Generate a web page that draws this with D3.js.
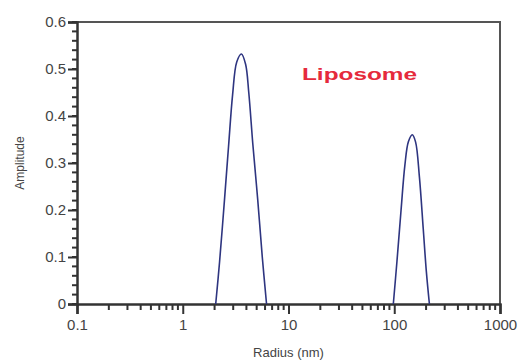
<!DOCTYPE html>
<html>
<head>
<meta charset="utf-8">
<script src="https://cdn.jsdelivr.net/npm/d3@7"></script>
<style>
  body { margin: 0; background: #fff; }
  svg { display: block; font-family: "Liberation Sans", Arial, sans-serif; }
</style>
</head>
<body>
<div id="chart"></div>
<script>
// Peak 1 (small vesicles) radius (nm) / amplitude
const radius1 = [2.05, 2.23, 2.48, 2.71, 2.96, 3.24, 3.59, 3.93, 4.21, 4.60, 5.12, 5.65, 6.2];
const amp1 = [0, 0.09, 0.221, 0.335, 0.445, 0.515, 0.532, 0.51, 0.45, 0.34, 0.221, 0.10, 0];
// Peak 2 (large vesicles)
const radius2 = [98, 106, 116, 126, 136, 148, 159, 173, 188, 201, 215];
const amp2 = [0, 0.09, 0.2, 0.295, 0.345, 0.36, 0.345, 0.27, 0.16, 0.07, 0];

const xTicks = [0.1, 1, 10, 100, 1000];
const yTicks = [0, 0.1, 0.2, 0.3, 0.4, 0.5, 0.6];

const width = 521, height = 363;
const margin = { top: 22, right: 21, bottom: 59, left: 77 };

const svg = d3.select('#chart')
    .append('svg')
    .attr('width', width)
    .attr('height', height);

const x = d3.scaleLog()
    .domain([0.1, 1000])
    .range([margin.left, width - margin.right]);

const y = d3.scaleLinear()
    .domain([0, 0.6])
    .range([height - margin.bottom, margin.top]);

const axisColor = '#333';

// Frame (top and right)
svg.append('path')
    .attr('d', `M${x(0.1)},${y(0.6)}H${x(1000)}V${y(0)}`)
    .attr('fill', 'none')
    .attr('stroke', '#555')
    .attr('stroke-width', 2);

// Minor x ticks
const xMinor = [];
for (let d = 0.1; d < 1000; d *= 10) {
    for (let k = 2; k <= 9; k++) xMinor.push(d * k);
}

const xAxis = svg.append('g')
    .attr('transform', `translate(0,${y(0)})`);

xAxis.selectAll('line.minor')
    .data(xMinor)
    .enter()
    .append('line')
    .attr('x1', d => x(d)).attr('x2', d => x(d))
    .attr('y1', 0).attr('y2', 6)
    .attr('stroke', axisColor)
    .attr('stroke-width', 2);

xAxis.call(d3.axisBottom(x)
        .tickValues(xTicks)
        .tickFormat(d3.format('~g'))
        .tickSize(10)
        .tickPadding(5))
    .call(g => g.select('.domain').attr('stroke', axisColor).attr('stroke-width', 2.5))
    .call(g => g.selectAll('.tick line').attr('stroke', axisColor).attr('stroke-width', 2))
    .call(g => g.selectAll('.tick text')
        .attr('fill', '#444')
        .style('font-size', '15px'));

// Y axis with minor ticks
const yMinor = d3.range(0, 0.601, 0.02);
const yAxis = svg.append('g')
    .attr('transform', `translate(${x(0.1)},0)`);

yAxis.selectAll('line.minor')
    .data(yMinor)
    .enter()
    .append('line')
    .attr('x1', -5).attr('x2', 0)
    .attr('y1', d => y(d)).attr('y2', d => y(d))
    .attr('stroke', axisColor)
    .attr('stroke-width', 2);

yAxis.call(d3.axisLeft(y)
        .tickValues(yTicks)
        .tickFormat(d3.format('~g'))
        .tickSize(9)
        .tickPadding(2))
    .call(g => g.select('.domain').attr('stroke', axisColor).attr('stroke-width', 2.5))
    .call(g => g.selectAll('.tick line').attr('stroke', axisColor).attr('stroke-width', 2))
    .call(g => g.selectAll('.tick text')
        .attr('fill', '#444')
        .style('font-size', '15px'));

// Axis titles
svg.append('text')
    .attr('x', (x(0.1) + x(1000)) / 2)
    .attr('y', 357)
    .attr('text-anchor', 'middle')
    .attr('fill', '#444')
    .style('font-size', '13px')
    .text('Radius (nm)');

svg.append('text')
    .attr('transform', `translate(24,${(y(0) + y(0.6)) / 2}) rotate(-90)`)
    .attr('text-anchor', 'middle')
    .attr('fill', '#444')
    .style('font-size', '12px')
    .text('Amplitude');

// Distribution curves
const lineGen = d3.line()
    .x(d => x(d[0]))
    .y(d => y(d[1]))
    .curve(d3.curveCatmullRom.alpha(0.5));

[[radius1, amp1], [radius2, amp2]].forEach(([rs, as]) => {
    svg.append('path')
        .datum(rs.map((r, i) => [r, as[i]]))
        .attr('d', lineGen)
        .attr('fill', 'none')
        .attr('stroke', '#2e3580')
        .attr('stroke-width', 1.6);
});

// Label
svg.append('text')
    .attr('x', 302)
    .attr('y', 80)
    .attr('fill', '#e52a3c')
    .attr('font-weight', 'bold')
    .attr('textLength', 115)
    .attr('lengthAdjust', 'spacingAndGlyphs')
    .style('font-size', '17px')
    .text('Liposome');
</script>
</body>
</html>
